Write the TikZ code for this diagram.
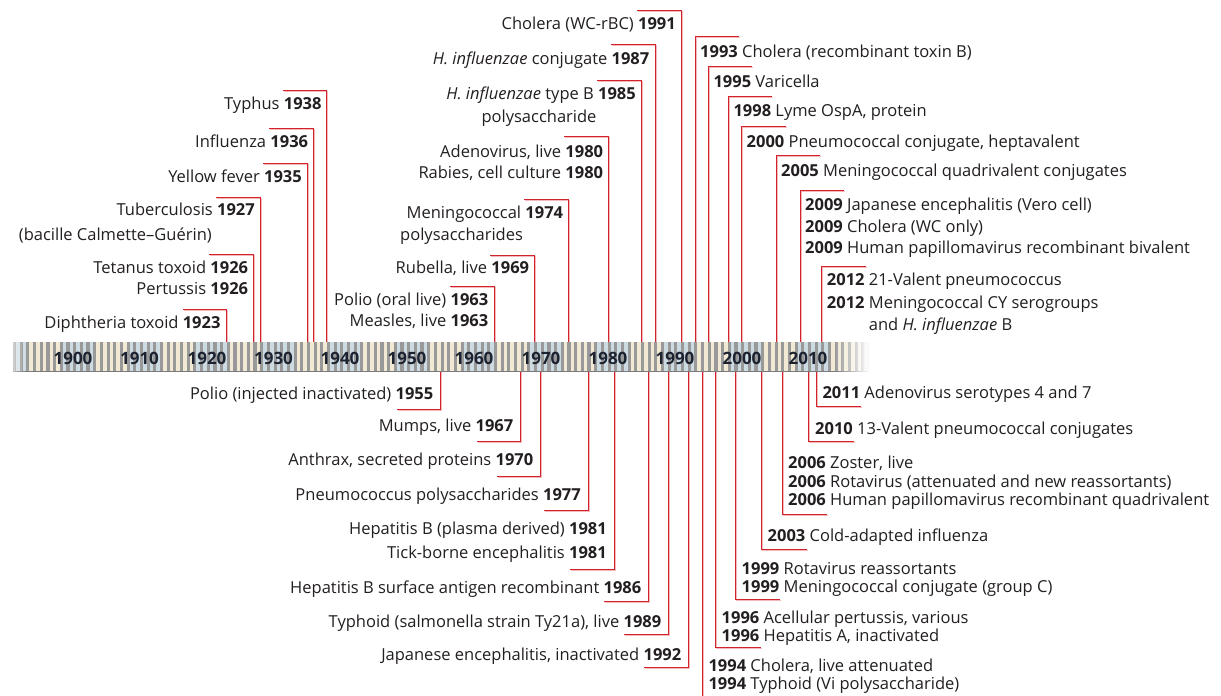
\documentclass[tikz,border=0pt]{standalone}
\usepackage{fontspec}
\setmainfont{Open Sans}
\definecolor{vred}{HTML}{D2232A}
\definecolor{vpink}{HTML}{F4B8BC}
\definecolor{txt}{HTML}{231F20}
\definecolor{deccol}{HTML}{1C2230}
\definecolor{sgrey}{HTML}{999999}
\definecolor{sblue}{HTML}{CCDAE2}
\definecolor{scream}{HTML}{F1E9D3}
\newcommand\yr[1]{\textbf{#1}}
\newcommand\vconn[5]{%
  \coordinate (b#1) at (#2,#3);
  \coordinate (t#1) at ({#2+#5},#4);
  \draw[vshadow] ([shift={(1.0,1.0)}]b#1) |- ([shift={(1.0,1.0)}]t#1);
  \draw[vline] (b#1) |- (t#1);
}
\begin{document}
\begin{tikzpicture}[x=1pt,y=-1pt,
  lbl/.style={inner sep=0pt, text=txt, font=\fontsize{16.5}{20}\selectfont},
  decade/.style={inner sep=0pt, text=deccol, font=\fontsize{17}{20}\selectfont\bfseries},
  vline/.style={draw=vred, line width=1.0pt},
  vshadow/.style={draw=vpink, line width=1.0pt},
]
\useasboundingbox[fill=white] (0,0) rectangle (1221,696);

% ---------- connectors above the bar (labels left)
\vconn{1938}{326.7}{350}{90.7}{-44}
\vconn{1936}{313.3}{350}{128}{-44}
\vconn{1935}{307}{350}{163}{-44}
\vconn{1927}{260}{350}{197}{-44}
\vconn{1926}{253.3}{350}{254}{-44}
\vconn{1923}{226.7}{350}{309}{-44}
\vconn{1991}{681}{350}{10}{-44}
\vconn{1987}{655}{350}{44}{-44}
\vconn{1985}{641}{350}{80}{-44}
\vconn{1980}{608}{350}{136.7}{-44}
\vconn{1974}{568.3}{350}{199.3}{-44}
\vconn{1969}{534.3}{350}{255}{-44}
\vconn{1963}{494}{350}{286}{-44}
% ---------- connectors above the bar (labels right)
\vconn{1993}{695}{350}{36.7}{44}
\vconn{1995}{708.3}{350}{66.7}{44}
\vconn{1998}{728.3}{350}{96}{44}
\vconn{2000}{741.5}{350}{126}{44}
\vconn{2005}{776}{350}{155.3}{44}
\vconn{2009}{800}{350}{190}{44}
\vconn{2012}{821.7}{350}{266}{44}
% ---------- connectors below the bar (labels left)
\vconn{1955}{440.7}{364}{409}{-44}
\vconn{1967}{520.7}{364}{441.7}{-44}
\vconn{1970}{540.7}{364}{476}{-44}
\vconn{1977}{588.3}{364}{510.7}{-44}
\vconn{1981}{614}{364}{569.3}{-44}
\vconn{1986}{648.3}{364}{601}{-44}
\vconn{1989}{668.3}{364}{634.3}{-44}
\vconn{1992}{688.3}{364}{667.7}{-44}
% ---------- connectors below the bar (labels right)
\coordinate (b1994) at (702.3,364);
\coordinate (t1994) at (702.3,696);
\draw[vshadow] ([shift={(1.0,0)}]b1994) -- ([shift={(1.0,0)}]t1994);
\draw[vline] (b1994) -- (t1994);
\vconn{1996}{715.5}{364}{647.3}{45}
\vconn{1999}{735.3}{364}{599.3}{45}
\vconn{2003}{761.7}{364}{549.3}{45}
\vconn{2006}{782}{364}{514}{45}
\vconn{2010}{808.7}{364}{441}{45}
\vconn{2011}{816}{364}{406}{45}

% ---------- timeline bar
\foreach \yy in {1891,...,2019} {
  \pgfmathsetmacro\xa{13+(\yy-1891)*6.68}
  \pgfmathtruncatemacro\m{mod(\yy,10)}
  \ifnum\m>2 \ifnum\m<8 \def\lc{scream}\else\def\lc{sblue}\fi\else\def\lc{sblue}\fi
  \fill[\lc] (\xa,342) rectangle ({\xa+6.8},372);
  \fill[sgrey] (\xa,342) rectangle ({\xa+3.1},372);
}
\draw[sgrey!80!black, line width=0.7pt] (13,371.7) -- (872,371.7);
\foreach \i in {0,...,11} {
  \pgfmathsetmacro\xs{836+\i*3}
  \pgfmathsetmacro\op{(\i+1)/12}
  \fill[white, opacity=\op] (\xs,340) rectangle ({\xs+3.2},375);
}
\fill[white] (872,340) rectangle (880,375);
\foreach \i in {0,...,4} {
  \pgfmathsetmacro\xs{12+\i*2.5}
  \pgfmathsetmacro\op{0.5-\i*0.1}
  \fill[white, opacity=\op] (\xs,340) rectangle ({\xs+2.6},375);
}
\foreach \d/\xx in {1900/73,1910/139.5,1920/207,1930/273.5,1940/340,1950/407,1960/474,1970/541,1980/608,1990/675,2000/742,2010/808}
  \node[decade] (d\d) at (\xx,358) {\d};

% ---------- labels upper left
\node[lbl, anchor=base east] (n1938) at (321.7,109.5) {Typhus \yr{1938}};
\node[lbl, anchor=base east] (n1936) at (308.3,147.5) {Influenza \yr{1936}};
\node[lbl, anchor=base east] (n1935) at (302,182.5) {Yellow fever \yr{1935}};
\node[lbl, anchor=base east] (n1927) at (255,215.5) {Tuberculosis \yr{1927}};
\node[lbl, anchor=base east] (n1927b) at (212,240.5) {(bacille Calmette–Guérin)};
\node[lbl, anchor=base east] (n1926) at (248.3,273.5) {Tetanus toxoid \yr{1926}};
\node[lbl, anchor=base east] (n1926b) at (248.3,294.5) {Pertussis \yr{1926}};
\node[lbl, anchor=base east] (n1923) at (220.7,328.5) {Diphtheria toxoid \yr{1923}};
\node[lbl, anchor=base east] (n1991) at (676,29.5) {Cholera (WC-rBC) \yr{1991}};
\node[lbl, anchor=base east] (n1987) at (649.5,64.5) {\textit{H. influenzae} conjugate \yr{1987}};
\node[lbl, anchor=base east] (n1985) at (636,99.5) {\textit{H. influenzae} type B \yr{1985}};
\node[lbl, anchor=base] (n1985b) at (539,122.5) {polysaccharide};
\node[lbl, anchor=base east] (n1980) at (603.3,157) {Adenovirus, live \yr{1980}};
\node[lbl, anchor=base east] (n1980b) at (603.3,178) {Rabies, cell culture \yr{1980}};
\node[lbl, anchor=base east] (n1974) at (563.3,218) {Meningococcal \yr{1974}};
\node[lbl, anchor=base west] (n1974b) at (400,240.5) {polysaccharides};
\node[lbl, anchor=base east] (n1969) at (529.3,273.8) {Rubella, live \yr{1969}};
\node[lbl, anchor=base east] (n1963) at (488.5,305.5) {Polio (oral live) \yr{1963}};
\node[lbl, anchor=base east] (n1963b) at (488.5,326.5) {Measles, live \yr{1963}};

% ---------- labels upper right
\node[lbl, anchor=base west] (n1993) at (700,57.8) {\yr{1993} Cholera (recombinant toxin B)};
\node[lbl, anchor=base west] (n1995) at (713.3,87.2) {\yr{1995} Varicella};
\node[lbl, anchor=base west] (n1998) at (733.3,116.2) {\yr{1998} Lyme OspA, protein};
\node[lbl, anchor=base west] (n2000) at (746.5,147.2) {\yr{2000} Pneumococcal conjugate, heptavalent};
\node[lbl, anchor=base west] (n2005) at (781,176.2) {\yr{2005} Meningococcal quadrivalent conjugates};
\node[lbl, anchor=base west] (n2009a) at (805,210.5) {\yr{2009} Japanese encephalitis (Vero cell)};
\node[lbl, anchor=base west] (n2009b) at (805,232.2) {\yr{2009} Cholera (WC only)};
\node[lbl, anchor=base west] (n2009c) at (805,253.8) {\yr{2009} Human papillomavirus recombinant bivalent};
\node[lbl, anchor=base west] (n2012a) at (826.7,285.5) {\yr{2012} 21-Valent pneumococcus};
\node[lbl, anchor=base west] (n2012b) at (826.7,308.2) {\yr{2012} Meningococcal CY serogroups};
\node[lbl, anchor=base west] (n2012c) at (826.7,330.5) {\phantom{\yr{2012} }and \textit{H. influenzae} B};

% ---------- labels lower left
\node[lbl, anchor=base east] (n1955) at (433.5,399.5) {Polio (injected inactivated) \yr{1955}};
\node[lbl, anchor=base east] (n1967) at (513.5,431.5) {Mumps, live \yr{1967}};
\node[lbl, anchor=base east] (n1970) at (533.5,465.5) {Anthrax, secreted proteins \yr{1970}};
\node[lbl, anchor=base east] (n1977) at (581,500.5) {Pneumococcus polysaccharides \yr{1977}};
\node[lbl, anchor=base east] (n1981a) at (607,534.8) {Hepatitis B (plasma derived) \yr{1981}};
\node[lbl, anchor=base east] (n1981b) at (607,558.2) {Tick-borne encephalitis \yr{1981}};
\node[lbl, anchor=base east] (n1986) at (641.5,593.8) {Hepatitis B surface antigen recombinant \yr{1986}};
\node[lbl, anchor=base east] (n1989) at (661.5,627.2) {Typhoid (salmonella strain Ty21a), live \yr{1989}};
\node[lbl, anchor=base east] (n1992) at (681.5,660.5) {Japanese encephalitis, inactivated \yr{1992}};

% ---------- labels lower right
\node[lbl, anchor=base west] (n1994a) at (708.3,671.5) {\yr{1994} Cholera, live attenuated};
\node[lbl, anchor=base west] (n1994b) at (708.3,689.8) {\yr{1994} Typhoid (Vi polysaccharide)};
\node[lbl, anchor=base west] (n1996a) at (721.5,623.8) {\yr{1996} Acellular pertussis, various};
\node[lbl, anchor=base west] (n1996b) at (721.5,641.2) {\yr{1996} Hepatitis A, inactivated};
\node[lbl, anchor=base west] (n1999a) at (741.5,574.8) {\yr{1999} Rotavirus reassortants};
\node[lbl, anchor=base west] (n1999b) at (741.5,592.2) {\yr{1999} Meningococcal conjugate (group C)};
\node[lbl, anchor=base west] (n2003) at (767.5,541.2) {\yr{2003} Cold-adapted influenza};
\node[lbl, anchor=base west] (n2006a) at (788,468.8) {\yr{2006} Zoster, live};
\node[lbl, anchor=base west] (n2006b) at (788,487.8) {\yr{2006} Rotavirus (attenuated and new reassortants)};
\node[lbl, anchor=base west] (n2006c) at (788,505.5) {\yr{2006} Human papillomavirus recombinant quadrivalent};
\node[lbl, anchor=base west] (n2010) at (815,434.5) {\yr{2010} 13-Valent pneumococcal conjugates};
\node[lbl, anchor=base west] (n2011) at (822.3,398.8) {\yr{2011} Adenovirus serotypes 4 and 7};
\end{tikzpicture}
\end{document}
